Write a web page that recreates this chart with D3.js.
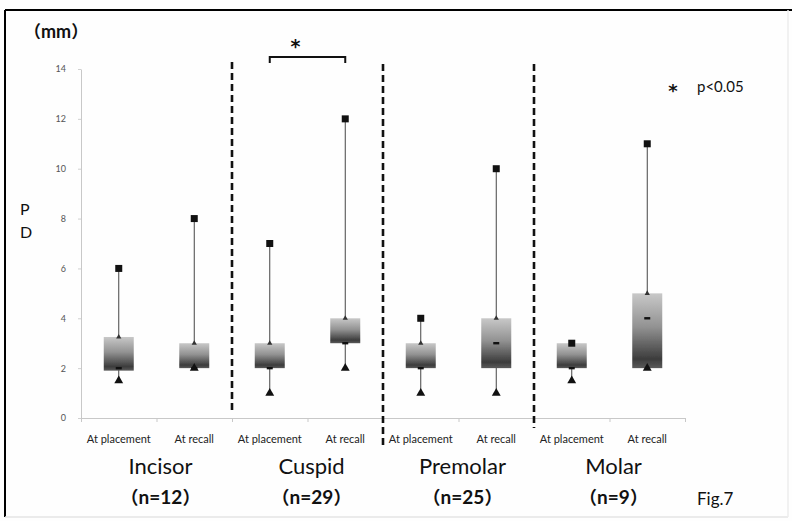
<!DOCTYPE html>
<html>
<head>
<meta charset="utf-8">
<script src="https://cdn.jsdelivr.net/npm/d3@7/dist/d3.min.js"></script>
<style>
  html, body { margin: 0; padding: 0; background: #ffffff; }
  svg { display: block; }
  text { font-family: Lato, "Noto Sans CJK JP", sans-serif; }
  .cjk { font-family: "Noto Sans CJK JP", sans-serif; }
  .star { font-family: "DejaVu Sans", sans-serif; font-weight: bold; }
</style>
</head>
<body>
<svg id="chart" width="792" height="521"></svg>
<script>
// Tooth groups and sample sizes
const categories = ["Incisor", "Cuspid", "Premolar", "Molar"];
const counts = [12, 29, 25, 9];
const timepoints = ["At placement", "At recall"];

// Probing depth (mm) summaries, one entry per group × timepoint
const maxVals = [6, 8, 7, 12, 4, 10, 3, 11];
const q3Vals  = [3.25, 3, 3, 4, 3, 4, 3, 5];
const medVals = [2, 2, 2, 3, 2, 3, 2, 4];
const q1Vals  = [1.9, 2, 2, 3, 2, 2, 2, 2];
const minVals = [1.5, 2, 1, 2, 1, 1, 1.5, 2];

const yTicks = [0, 2, 4, 6, 8, 10, 12, 14];

// Significant pair: Cuspid at placement vs at recall
const sigPair = [2, 3];

const svg = d3.select("#chart");
const W = 792, H = 521;

// Frame: dark top/left edges, faint bottom/right edges
svg.append("rect").attr("x", 0).attr("y", 0).attr("width", W).attr("height", H).attr("fill", "#fefefe");
svg.append("line").attr("x1", 5).attr("x2", W).attr("y1", 10).attr("y2", 10).attr("stroke", "#000").attr("stroke-width", 2);
svg.append("line").attr("x1", 5).attr("x2", 5).attr("y1", 10).attr("y2", 517).attr("stroke", "#000").attr("stroke-width", 2);
svg.append("line").attr("x1", 5).attr("x2", 788).attr("y1", 517).attr("y2", 517).attr("stroke", "#e4e4e4").attr("stroke-width", 1.5);
svg.append("line").attr("x1", 788).attr("x2", 788).attr("y1", 10).attr("y2", 517).attr("stroke", "#ececec").attr("stroke-width", 1.5);

// Flatten into boxes
const boxes = [];
categories.forEach((c, gi) => {
  timepoints.forEach((t, ti) => {
    const i = gi * 2 + ti;
    boxes.push({ key: c + "|" + t, cat: c, time: t, i,
      max: maxVals[i], q3: q3Vals[i], med: medVals[i], q1: q1Vals[i], min: minVals[i] });
  });
});

const plotLeft = 81, plotRight = 685, plotTop = 69, plotBottom = 418;

const x = d3.scaleBand().domain(boxes.map(d => d.key)).range([plotLeft, plotRight]).padding(0);
const slot = d3.scaleLinear().domain([0, boxes.length]).range([plotLeft, plotRight]);
const y = d3.scaleLinear().domain([0, 14]).range([plotBottom, plotTop]);

// Box gradient: light at the top, dark toward the bottom
const defs = svg.append("defs");
const grad = defs.append("linearGradient").attr("id", "boxGrad")
  .attr("x1", 0).attr("y1", 0).attr("x2", 0).attr("y2", 1);
grad.append("stop").attr("offset", "0%").attr("stop-color", "#c8c8c8");
grad.append("stop").attr("offset", "45%").attr("stop-color", "#929292");
grad.append("stop").attr("offset", "88%").attr("stop-color", "#3c3c3c");
grad.append("stop").attr("offset", "100%").attr("stop-color", "#5a5a5a");
defs.append("filter").attr("id", "soft").append("feGaussianBlur").attr("stdDeviation", 0.5);

// Y axis
const yAxis = svg.append("g").attr("transform", `translate(${plotLeft},0)`)
  .call(d3.axisLeft(y).tickValues(yTicks).tickSize(3).tickSizeOuter(0).tickPadding(12));
yAxis.select(".domain").attr("stroke", "#c8c8c8");
yAxis.selectAll(".tick line").attr("stroke", "#d0d0d0");
yAxis.selectAll(".tick text").attr("fill", "#555").style("font-size", "9px");

// X axis with ticks at slot boundaries
const xAxis = svg.append("g").attr("transform", `translate(0,${plotBottom})`)
  .call(d3.axisBottom(slot).tickValues(d3.range(boxes.length + 1)).tickFormat("").tickSize(4).tickSizeOuter(0));
xAxis.select(".domain").attr("stroke", "#c8c8c8");
xAxis.selectAll(".tick line").attr("stroke", "#c8c8c8");

// Dashed separators between tooth groups
const sepTops = [62, 64, 64], sepBottoms = [414, 446, 428];
[1, 2, 3].forEach((g, k) => {
  const sx = slot(g * 2);
  svg.append("line").attr("x1", sx).attr("x2", sx)
    .attr("y1", sepTops[k]).attr("y2", sepBottoms[k])
    .attr("stroke", "#111").attr("stroke-width", 2.6).attr("stroke-dasharray", "7,4");
});

const cx = d => x(d.key) + x.bandwidth() / 2;
const boxW = 30;

const g = svg.append("g");

// Whiskers (min to max)
g.selectAll("line.whisker").data(boxes).join("line").attr("class", "whisker")
  .attr("x1", cx).attr("x2", cx)
  .attr("y1", d => y(d.min)).attr("y2", d => y(d.max))
  .attr("stroke", "#444").attr("stroke-width", 1);

// Boxes (Q1 to Q3)
g.selectAll("rect.box").data(boxes).join("rect").attr("class", "box")
  .attr("x", d => cx(d) - boxW / 2).attr("width", boxW)
  .attr("y", d => y(d.q3)).attr("height", d => y(d.q1) - y(d.q3))
  .attr("fill", "url(#boxGrad)").attr("filter", "url(#soft)");

// Q3 marker: small triangle
g.selectAll("path.q3").data(boxes).join("path").attr("class", "q3")
  .attr("d", d3.symbol().type(d3.symbolTriangle).size(12))
  .attr("transform", d => `translate(${cx(d)},${y(d.q3)})`)
  .attr("fill", "#333");

// Median marker: short dash
g.selectAll("rect.med").data(boxes).join("rect").attr("class", "med")
  .attr("x", d => cx(d) - 3).attr("width", 6)
  .attr("y", d => y(d.med) - 1.2).attr("height", 2.4)
  .attr("fill", "#111");

// Minimum marker: filled triangle
g.selectAll("path.min").data(boxes).join("path").attr("class", "min")
  .attr("d", d3.symbol().type(d3.symbolTriangle).size(34))
  .attr("transform", d => `translate(${cx(d)},${y(d.min)})`)
  .attr("fill", "#111");

// Maximum marker: filled square
g.selectAll("rect.max").data(boxes).join("rect").attr("class", "max")
  .attr("x", d => cx(d) - 3.5).attr("width", 7)
  .attr("y", d => y(d.max) - 3.5).attr("height", 7)
  .attr("fill", "#111");

// Slot labels
svg.selectAll("text.slot").data(boxes).join("text").attr("class", "slot")
  .attr("x", cx).attr("y", 443)
  .attr("text-anchor", "middle").attr("fill", "#222")
  .style("font-size", "11px")
  .text(d => d.time);

// Group names and sample sizes
const groupCenter = gi => slot(gi * 2 + 1) + 4;
svg.selectAll("text.cat").data(categories).join("text").attr("class", "cat")
  .attr("x", (d, i) => groupCenter(i)).attr("y", 474)
  .attr("text-anchor", "middle").attr("fill", "#111")
  .style("font-size", "22px")
  .text(d => d);

// Text with full-width parentheses set in the CJK face
function parenText(sel, inner, parenSize) {
  sel.append("tspan").attr("class", "cjk").style("font-size", parenSize + "px").text("（");
  sel.append("tspan").text(inner);
  sel.append("tspan").attr("class", "cjk").style("font-size", parenSize + "px").text("）");
}
svg.selectAll("text.n").data(counts).join("text").attr("class", "n")
  .attr("x", (d, i) => groupCenter(i)).attr("y", 504)
  .attr("text-anchor", "middle").attr("fill", "#111")
  .style("font-size", "19px").style("font-weight", "bold")
  .each(function(d) { parenText(d3.select(this), `n=${d}`, 18); });

// Significance bracket
const bx1 = x(boxes[sigPair[0]].key) + x.bandwidth() / 2;
const bx2 = x(boxes[sigPair[1]].key) + x.bandwidth() / 2;
svg.append("path")
  .attr("d", `M${bx1},63 V57 H${bx2} V63`)
  .attr("fill", "none").attr("stroke", "#111").attr("stroke-width", 2);
svg.append("text").attr("class", "star").attr("x", (bx1 + bx2) / 2 - 12).attr("y", 53)
  .attr("text-anchor", "middle").attr("fill", "#111")
  .style("font-size", "19px").text("*");

// Legend note
svg.append("text").attr("class", "star").attr("x", 673).attr("y", 97)
  .attr("text-anchor", "middle").attr("fill", "#111")
  .style("font-size", "18px").text("*");
svg.append("text").attr("x", 697).attr("y", 92).attr("fill", "#111")
  .style("font-size", "15px").text("p<0.05");

// Units and axis title
const mm = svg.append("text").attr("x", 24).attr("y", 38).attr("fill", "#111")
  .style("font-size", "18px").style("font-weight", "bold");
parenText(mm, "mm", 17);
svg.append("text").attr("x", 20).attr("y", 215).attr("fill", "#111")
  .style("font-size", "16px").text("P");
svg.append("text").attr("x", 20).attr("y", 238).attr("fill", "#111")
  .style("font-size", "16px").text("D");

// Figure number
svg.append("text").attr("x", 697).attr("y", 505).attr("fill", "#111")
  .style("font-size", "17px").text("Fig.7");
</script>
</body>
</html>
